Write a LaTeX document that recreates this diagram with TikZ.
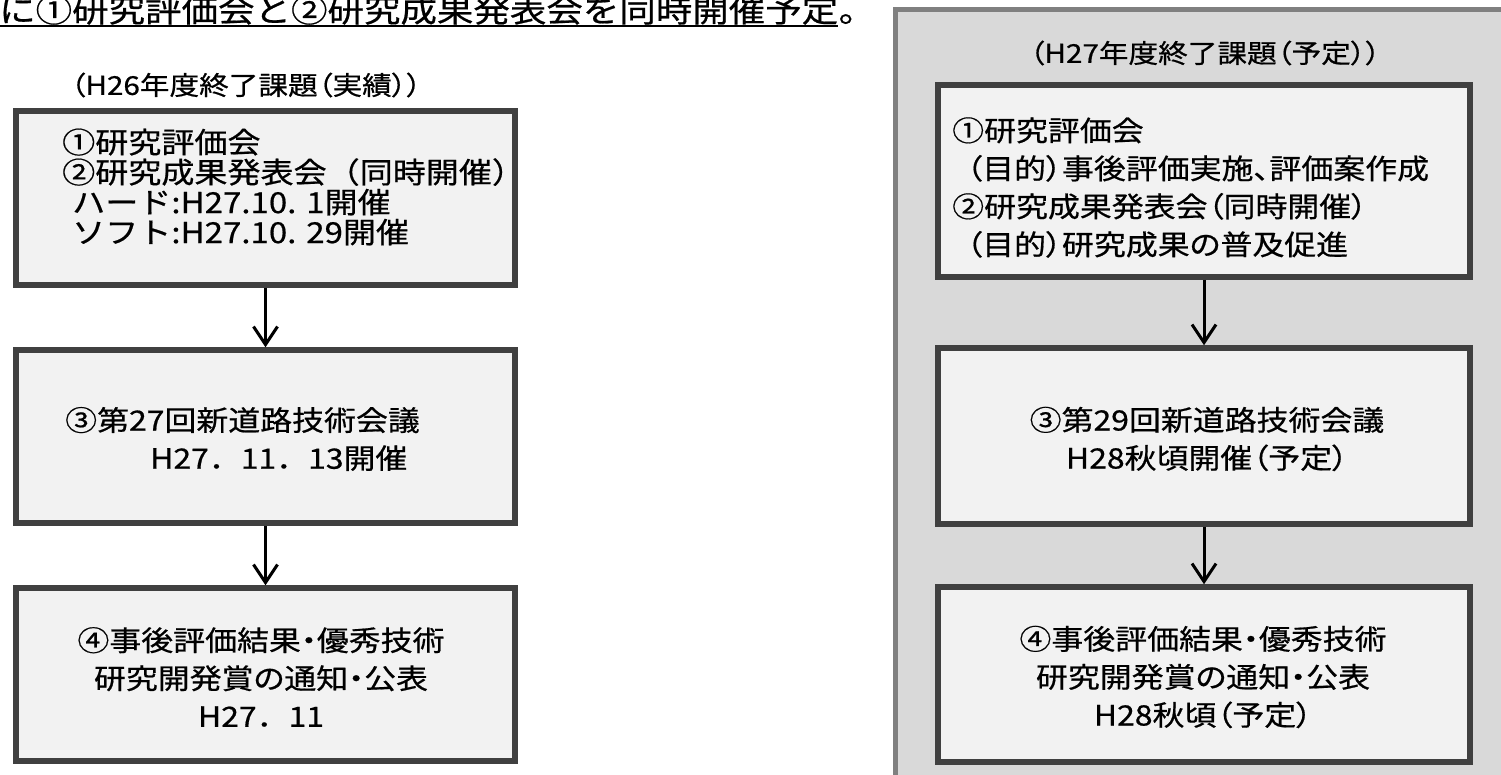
\documentclass[tikz,border=0pt]{standalone}
\usepackage{fontspec}
\setmainfont{Noto Sans CJK JP}[FakeStretch=1.14, FakeBold=0.6, RawFeature=+palt]
\newfontfamily\fixedcjk{Noto Sans CJK JP}[FakeStretch=1.14, FakeBold=0.6]
\usetikzlibrary{arrows.meta}
\definecolor{boxfill}{HTML}{F2F2F2}
\definecolor{boxline}{HTML}{404040}
\definecolor{panelfill}{HTML}{D9D9D9}
\definecolor{panelline}{HTML}{808080}
\begin{document}
\begin{tikzpicture}[x=1pt,y=-1pt,
  stagebox/.style={draw=boxline, fill=boxfill, line width=5.5pt, inner sep=0pt},
  panelbox/.style={draw=panelline, fill=panelfill, line width=4.5pt, inner sep=0pt},
  flow/.style={draw=black, line width=3pt, -{Straight Barb[length=18pt,width=24pt]}},
  txt/.style={inner sep=0pt, font=\fontsize{28}{38}\selectfont},
  txtA/.style={inner sep=0pt, font=\fixedcjk\fontsize{29}{30}\selectfont},
  titletxt/.style={inner sep=0pt, font=\fontsize{26}{30}\selectfont},
  headtxt/.style={inner sep=0pt, font=\fixedcjk\fontsize{32}{34}\selectfont},
]
\useasboundingbox (0,0) rectangle (1501,774);
\clip (0,0) rectangle (1501,774);
\fill[white] (0,0) rectangle (1501,774);

% heading (clipped at top)
\node[headtxt, anchor=base west] (head) at (-1,22) {に①研究評価会と②研究成果発表会を同時開催予定};
\node[headtxt, anchor=base west] (headdot) at (head.base east) {。};
\draw[line width=2pt] ([yshift=-1.5pt]head.south west) -- ([yshift=-1.5pt]head.south east);

% right panel
\node[panelbox, minimum width=640pt, minimum height=800pt] (panel) at (1215.5,409.5) {};

% left column
\node[titletxt] (ltitle) at (246,85) {（H26年度終了課題（実績））};
\node[stagebox, minimum width=499pt, minimum height=174pt] (L1) at (265.5,198) {};
\node[stagebox, minimum width=499pt, minimum height=173pt] (L2) at (265.5,436.5) {};
\node[stagebox, minimum width=499pt, minimum height=173pt] (L3) at (265.5,674.5) {};

\node[txtA, anchor=west, align=left] (L1t) at (62,187) {①研究評価会\\②研究成果発表会（同時開催）\\\hspace*{10pt}ハード:H27.10. 1開催\\\hspace*{10pt}ソフト:H27.10. 29開催};
\node[txt, anchor=west, align=left] (L2t) at (65,439) {③第27回新道路技術会議\\\hspace*{85pt}{\fixedcjk H27．11．13}開催};
\node[txt, align=center] (L3t) at (261,677) {④事後評価結果・優秀技術\\研究開発賞の通知・公表\\{\fixedcjk H27．11}};

% right column
\node[titletxt] (rtitle) at (1205,53) {（H27年度終了課題（予定））};
\node[stagebox, minimum width=532pt, minimum height=192pt] (R1) at (1204,181) {};
\node[stagebox, minimum width=532pt, minimum height=176pt] (R2) at (1204,436) {};
\node[stagebox, minimum width=532pt, minimum height=175pt] (R3) at (1204,674.5) {};

\node[txt, anchor=west, align=left] (R1t) at (952,187.5) {①研究評価会\\\hspace*{14pt}（目的）事後評価実施、評価案作成\\②研究成果発表会（同時開催）\\\hspace*{14pt}（目的）研究成果の普及促進};
\node[txt, align=center] (R2t) at (1207,439) {③第29回新道路技術会議\\H28秋頃開催（予定）};
\node[txt, align=center] (R3t) at (1203,677) {④事後評価結果・優秀技術\\研究開発賞の通知・公表\\H28秋頃（予定）};

% connectors
\draw[flow] (L1.south) -- (L2.north);
\draw[flow] (L2.south) -- (L3.north);
\draw[flow] (R1.south) -- (R2.north);
\draw[flow] (R2.south) -- (R3.north);
\end{tikzpicture}
\end{document}
